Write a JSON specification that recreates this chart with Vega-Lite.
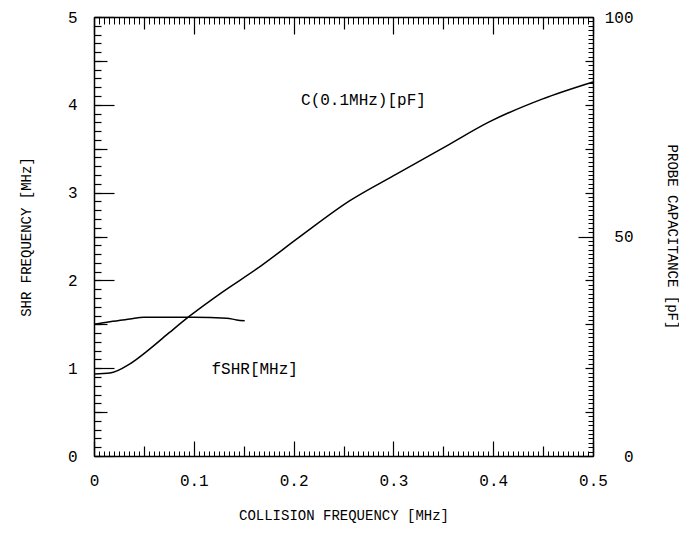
{
  "$schema": "https://vega.github.io/schema/vega-lite/v6.json",
  "autosize": {"type": "none"},
  "padding": {"left": 94, "top": 17, "right": 86, "bottom": 83},
  "width": 499,
  "height": 439,
  "background": "white",
  "view": {"stroke": null},
  "config": {
    "axis": {
      "grid": false,
      "domainColor": "black",
      "domainWidth": 1.5,
      "tickColor": "black",
      "tickWidth": 1.2,
      "labelColor": "black",
      "labelFont": "Liberation Mono",
      "labelFontSize": 16,
      "titleFont": "Liberation Mono",
      "titleFontSize": 14,
      "titleFontWeight": "normal",
      "titleColor": "black"
    },
    "text": {"font": "Liberation Mono"}
  },
  "datasets": {
    "shr": [
      {"f": 0, "v": 1.5},
      {"f": 0.016, "v": 1.53},
      {"f": 0.036, "v": 1.56},
      {"f": 0.05, "v": 1.58},
      {"f": 0.08, "v": 1.58},
      {"f": 0.1, "v": 1.58},
      {"f": 0.133, "v": 1.57},
      {"f": 0.143, "v": 1.55},
      {"f": 0.151, "v": 1.54}
    ],
    "cap": [
      {"f": 0, "c": 18.7},
      {"f": 0.016, "c": 18.9},
      {"f": 0.036, "c": 21.0},
      {"f": 0.056, "c": 24.4},
      {"f": 0.076, "c": 28.2},
      {"f": 0.096, "c": 31.9},
      {"f": 0.129, "c": 37.4},
      {"f": 0.163, "c": 42.6},
      {"f": 0.206, "c": 49.9},
      {"f": 0.256, "c": 58.1},
      {"f": 0.303, "c": 64.2},
      {"f": 0.353, "c": 70.6},
      {"f": 0.396, "c": 76.1},
      {"f": 0.449, "c": 81.3},
      {"f": 0.5, "c": 85.2}
    ],
    "notes": [
      {"f": 0.27, "v": 4.05, "t": "C(0.1MHz)[pF]"},
      {"f": 0.161, "v": 0.99, "t": "fSHR[MHz]"}
    ]
  },
  "layer": [
    {
      "data": {"name": "shr"},
      "mark": {"type": "line", "color": "black", "strokeWidth": 1.5, "interpolate": "monotone"},
      "encoding": {
        "x": {"field": "f", "type": "quantitative", "scale": {"domain": [0, 0.5], "nice": false},
          "axis": {"orient": "bottom", "values": [0, 0.1, 0.2, 0.3, 0.4, 0.5], "format": "~g", "ticks": false, "labelPadding": 16, "title": "COLLISION FREQUENCY [MHz]", "titlePadding": 20, "labelFlush": false}},
        "y": {"field": "v", "type": "quantitative", "scale": {"domain": [0, 5], "nice": false, "zero": true},
          "axis": {"orient": "left", "values": [0, 1, 2, 3, 4, 5], "ticks": false, "labelPadding": 17, "title": "SHR FREQUENCY [MHz]", "titlePadding": 34, "labelFlush": false}}
      }
    },
    {
      "data": {"name": "cap"},
      "mark": {"type": "line", "color": "black", "strokeWidth": 1.5, "interpolate": "monotone"},
      "encoding": {
        "x": {"field": "f", "type": "quantitative", "scale": {"domain": [0, 0.5], "nice": false},
          "axis": {"orient": "top", "values": [0, 0.1, 0.2, 0.3, 0.4, 0.5], "labels": false, "tickSize": -17, "title": null}},
        "y": {"field": "c", "type": "quantitative", "scale": {"domain": [0, 100], "nice": false, "zero": true},
          "axis": {"orient": "right", "values": [0, 50, 100], "ticks": false, "labelAlign": "right", "labelPadding": 40, "labelFlush": false, "title": "PROBE CAPACITANCE [pF]", "titlePadding": 31}}
      }
    },
    {
      "data": {"name": "shr"},
      "mark": {"type": "line", "opacity": 0},
      "encoding": {
        "x": {"field": "f", "type": "quantitative", "scale": {"domain": [0, 0.5], "nice": false},
          "axis": {"orient": "bottom", "values": [0, 0.1, 0.2, 0.3, 0.4, 0.5], "labels": false, "domain": false, "tickSize": -15, "title": null}},
        "y": {"field": "v", "type": "quantitative", "scale": {"domain": [0, 5], "nice": false, "zero": true},
          "axis": {"orient": "left", "values": [0, 1, 2, 3, 4, 5], "labels": false, "domain": false, "tickSize": -20, "title": null}}
      }
    },
    {
      "data": {"name": "shr"},
      "mark": {"type": "line", "opacity": 0},
      "encoding": {
        "x": {"field": "f", "type": "quantitative", "scale": {"domain": [0, 0.5], "nice": false},
          "axis": {"orient": "bottom", "values": [0.05, 0.15, 0.25, 0.35, 0.45], "labels": false, "domain": false, "tickSize": -10, "title": null}},
        "y": {"field": "v", "type": "quantitative", "scale": {"domain": [0, 5], "nice": false, "zero": true},
          "axis": {"orient": "left", "values": [0.5, 1.5, 2.5, 3.5, 4.5], "labels": false, "domain": false, "tickSize": -13, "title": null}}
      }
    },
    {
      "data": {"name": "shr"},
      "mark": {"type": "line", "opacity": 0},
      "encoding": {
        "x": {"field": "f", "type": "quantitative", "scale": {"domain": [0, 0.5], "nice": false},
          "axis": {"orient": "bottom", "values": [0,0.005,0.01,0.015,0.02,0.025,0.03,0.035,0.04,0.045,0.05,0.055,0.06,0.065,0.07,0.075,0.08,0.085,0.09,0.095,0.1,0.105,0.11,0.115,0.12,0.125,0.13,0.135,0.14,0.145,0.15,0.155,0.16,0.165,0.17,0.175,0.18,0.185,0.19,0.195,0.2,0.205,0.21,0.215,0.22,0.225,0.23,0.235,0.24,0.245,0.25,0.255,0.26,0.265,0.27,0.275,0.28,0.285,0.29,0.295,0.3,0.305,0.31,0.315,0.32,0.325,0.33,0.335,0.34,0.345,0.35,0.355,0.36,0.365,0.37,0.375,0.38,0.385,0.39,0.395,0.4,0.405,0.41,0.415,0.42,0.425,0.43,0.435,0.44,0.445,0.45,0.455,0.46,0.465,0.47,0.475,0.48,0.485,0.49,0.495,0.5], "labels": false, "domain": false, "tickSize": -5, "tickWidth": 1, "title": null}},
        "y": {"field": "v", "type": "quantitative", "scale": {"domain": [0, 5], "nice": false, "zero": true},
          "axis": {"orient": "left", "values": [0,0.1,0.2,0.3,0.4,0.5,0.6,0.7,0.8,0.9,1,1.1,1.2,1.3,1.4,1.5,1.6,1.7,1.8,1.9,2,2.1,2.2,2.3,2.4,2.5,2.6,2.7,2.8,2.9,3,3.1,3.2,3.3,3.4,3.5,3.6,3.7,3.8,3.9,4,4.1,4.2,4.3,4.4,4.5,4.6,4.7,4.8,4.9,5], "labels": false, "domain": false, "tickSize": -7, "title": null}}
      }
    },
    {
      "data": {"name": "cap"},
      "mark": {"type": "line", "opacity": 0},
      "encoding": {
        "x": {"field": "f", "type": "quantitative", "scale": {"domain": [0, 0.5], "nice": false},
          "axis": {"orient": "top", "values": [0.05, 0.15, 0.25, 0.35, 0.45], "labels": false, "domain": false, "tickSize": -12, "title": null}},
        "y": {"field": "c", "type": "quantitative", "scale": {"domain": [0, 100], "nice": false, "zero": true},
          "axis": {"orient": "right", "values": [0, 50, 100], "labels": false, "domain": false, "tickSize": -15, "title": null}}
      }
    },
    {
      "data": {"name": "cap"},
      "mark": {"type": "line", "opacity": 0},
      "encoding": {
        "x": {"field": "f", "type": "quantitative", "scale": {"domain": [0, 0.5], "nice": false},
          "axis": {"orient": "top", "values": [0,0.005,0.01,0.015,0.02,0.025,0.03,0.035,0.04,0.045,0.05,0.055,0.06,0.065,0.07,0.075,0.08,0.085,0.09,0.095,0.1,0.105,0.11,0.115,0.12,0.125,0.13,0.135,0.14,0.145,0.15,0.155,0.16,0.165,0.17,0.175,0.18,0.185,0.19,0.195,0.2,0.205,0.21,0.215,0.22,0.225,0.23,0.235,0.24,0.245,0.25,0.255,0.26,0.265,0.27,0.275,0.28,0.285,0.29,0.295,0.3,0.305,0.31,0.315,0.32,0.325,0.33,0.335,0.34,0.345,0.35,0.355,0.36,0.365,0.37,0.375,0.38,0.385,0.39,0.395,0.4,0.405,0.41,0.415,0.42,0.425,0.43,0.435,0.44,0.445,0.45,0.455,0.46,0.465,0.47,0.475,0.48,0.485,0.49,0.495,0.5], "labels": false, "domain": false, "tickSize": -7, "tickWidth": 1, "title": null}},
        "y": {"field": "c", "type": "quantitative", "scale": {"domain": [0, 100], "nice": false, "zero": true},
          "axis": {"orient": "right", "values": [10, 20, 30, 40, 60, 70, 80, 90], "labels": false, "domain": false, "tickSize": -8, "title": null}}
      }
    },
    {
      "data": {"name": "cap"},
      "mark": {"type": "line", "opacity": 0},
      "encoding": {
        "x": {"field": "f", "type": "quantitative", "scale": {"domain": [0, 0.5], "nice": false}, "axis": null},
        "y": {"field": "c", "type": "quantitative", "scale": {"domain": [0, 100], "nice": false, "zero": true},
          "axis": {"orient": "right", "values": [0,1,2,3,4,5,6,7,8,9,10,11,12,13,14,15,16,17,18,19,20,21,22,23,24,25,26,27,28,29,30,31,32,33,34,35,36,37,38,39,40,41,42,43,44,45,46,47,48,49,50,51,52,53,54,55,56,57,58,59,60,61,62,63,64,65,66,67,68,69,70,71,72,73,74,75,76,77,78,79,80,81,82,83,84,85,86,87,88,89,90,91,92,93,94,95,96,97,98,99,100], "labels": false, "domain": false, "tickSize": -5, "tickWidth": 1, "title": null}}
      }
    },
    {
      "data": {"name": "notes"},
      "mark": {"type": "text", "font": "Liberation Mono", "fontSize": 16, "color": "black", "align": "center", "baseline": "middle"},
      "encoding": {
        "x": {"field": "f", "type": "quantitative", "scale": {"domain": [0, 0.5], "nice": false}, "axis": null},
        "y": {"field": "v", "type": "quantitative", "scale": {"domain": [0, 5], "nice": false, "zero": true}, "axis": null},
        "text": {"field": "t", "type": "nominal"}
      }
    }
  ],
  "resolve": {"scale": {"y": "independent"}, "axis": {"x": "independent", "y": "independent"}}
}
